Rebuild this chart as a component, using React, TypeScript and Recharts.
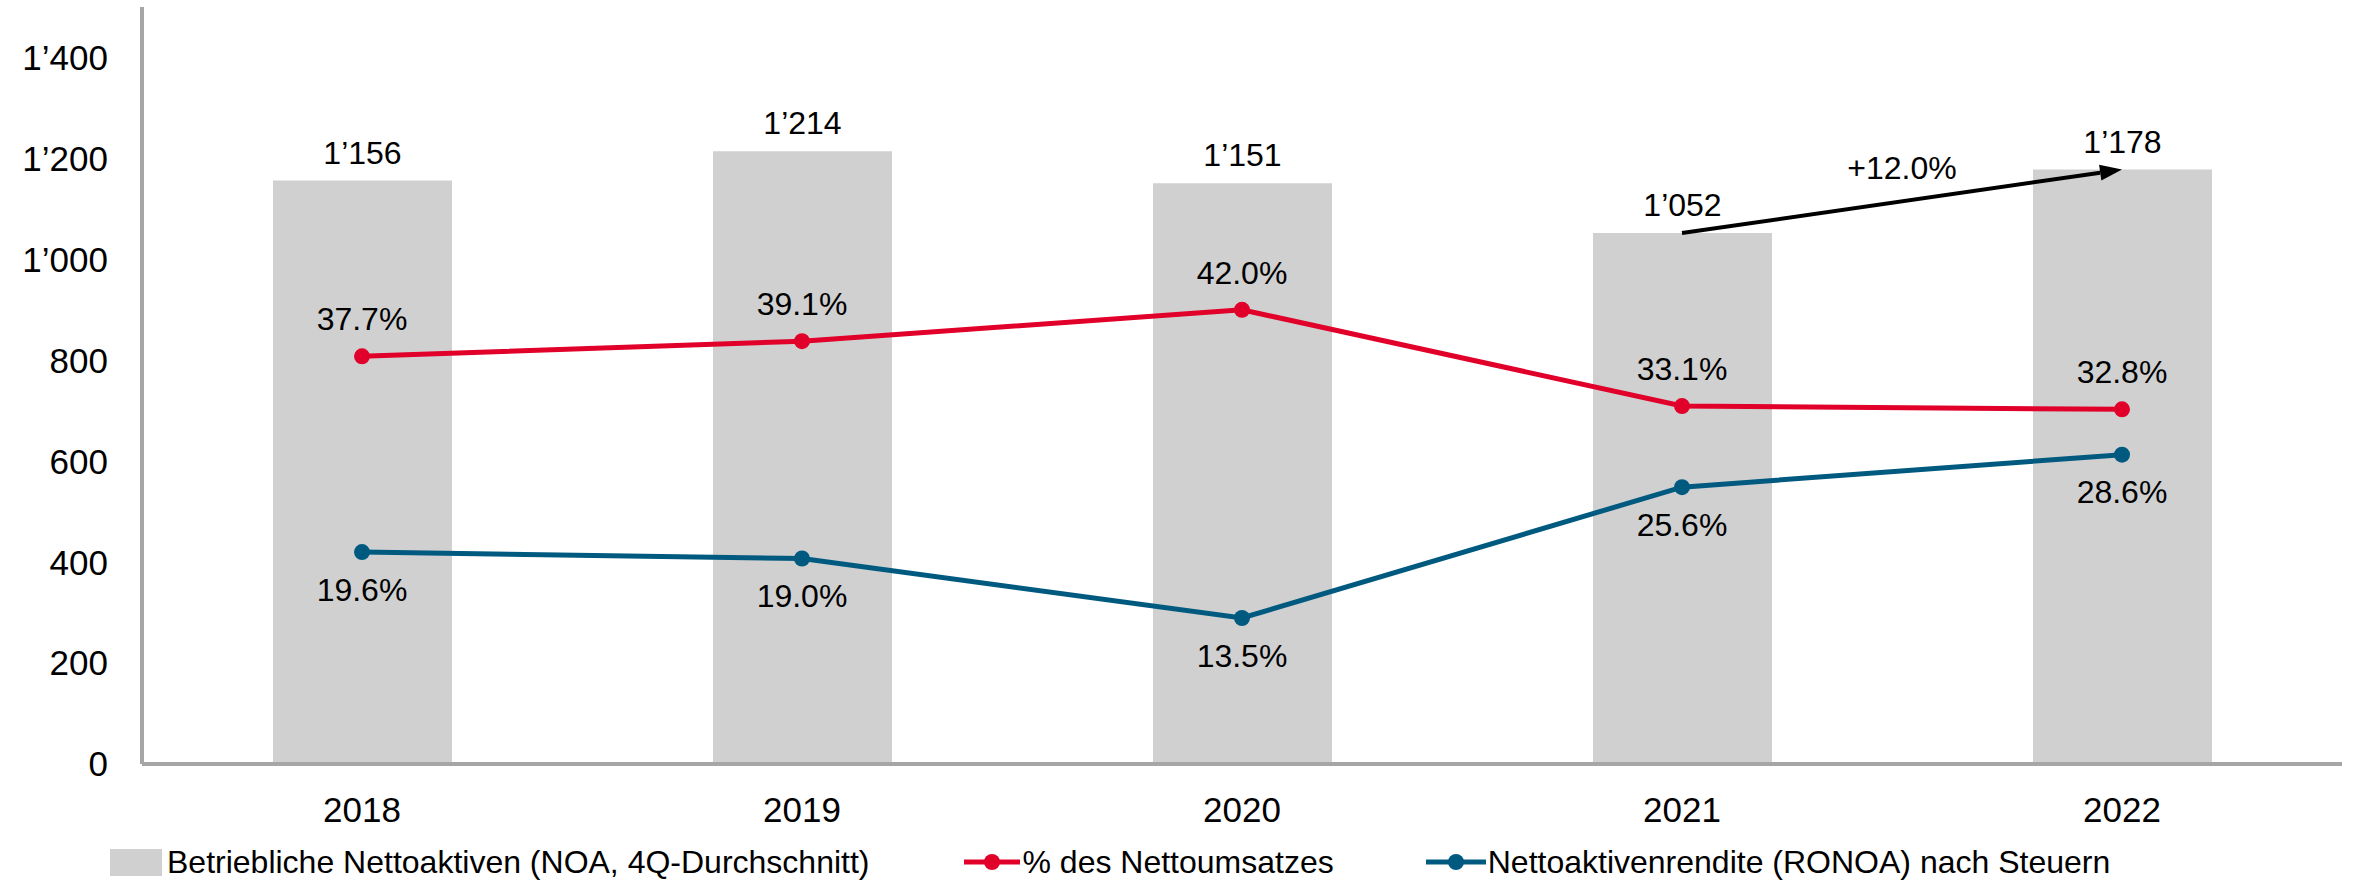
import React from "react";
import {
  ComposedChart, Bar, Line, XAxis, YAxis, LabelList, Legend, ReferenceLine,
} from "recharts";

const years = ["2018", "2019", "2020", "2021", "2022"];
const noa = [1156, 1214, 1151, 1052, 1178];
const pctSales = [37.7, 39.1, 42.0, 33.1, 32.8];
const ronoa = [19.6, 19.0, 13.5, 25.6, 28.6];
const yTicks = [0, 200, 400, 600, 800, 1000, 1200, 1400];
const growthLabel = "+12.0%";

const data = years.map((year, i) => ({
  year,
  noa: noa[i],
  pct: pctSales[i],
  ronoa: ronoa[i],
}));

const GREY = "#d0d0d0";
const RED = "#e1002a";
const BLUE = "#005a80";
const AXIS = "#a6a6a6";
const FONT = "'Liberation Sans', Arial, sans-serif";

function fmtThousands(v: number) {
  const s = String(Math.round(v));
  return s.replace(/\B(?=(\d{3})+(?!\d))/g, "\u2019");
}

function fmtPct(v: number) {
  return `${v.toFixed(1)}%`;
}

// arrow from 2021 bar top to 2022 bar top, with growth label
function GrowthArrow(props: any) {
  const { x1, y1, x2, y2 } = props;
  if (x1 == null) return null;
  const ang = Math.atan2(y2 - y1, x2 - x1);
  const len = 22;
  const w = 8;
  const bx = x2 - len * Math.cos(ang);
  const by = y2 - len * Math.sin(ang);
  const px = -Math.sin(ang) * w;
  const py = Math.cos(ang) * w;
  const mx = (x1 + x2) / 2;
  const my = (y1 + y2) / 2;
  return (
    <g>
      <line x1={x1} y1={y1} x2={bx} y2={by} stroke="#000" strokeWidth={4} />
      <polygon points={`${x2},${y2} ${bx + px},${by + py} ${bx - px},${by - py}`} fill="#000" />
      <text x={mx} y={my - 22} textAnchor="middle" fontSize={32} fontFamily={FONT} fill="#000">
        {growthLabel}
      </text>
    </g>
  );
}

function LegendContent() {
  const item = { display: "flex", alignItems: "center" } as const;
  return (
    <div
      style={{
        display: "flex",
        alignItems: "center",
        height: 36,
        paddingLeft: 110,
        fontFamily: FONT,
        fontSize: 32,
        color: "#000",
        whiteSpace: "nowrap",
      }}
    >
      <div style={{ ...item, marginRight: 95 }}>
        <span style={{ width: 52, height: 27, background: GREY, display: "inline-block", marginRight: 5 }} />
        <span>Betriebliche Nettoaktiven (NOA, 4Q-Durchschnitt)</span>
      </div>
      <div style={{ ...item, marginRight: 92 }}>
        <svg width={56} height={20} style={{ marginRight: 2 }}>
          <line x1={0} y1={10} x2={56} y2={10} stroke={RED} strokeWidth={5} />
          <circle cx={28} cy={10} r={8} fill={RED} />
        </svg>
        <span>% des Nettoumsatzes</span>
      </div>
      <div style={item}>
        <svg width={60} height={20} style={{ marginRight: 2 }}>
          <line x1={0} y1={10} x2={60} y2={10} stroke={BLUE} strokeWidth={5} />
          <circle cx={30} cy={10} r={8} fill={BLUE} />
        </svg>
        <span>Nettoaktivenrendite (RONOA) nach Steuern</span>
      </div>
    </div>
  );
}

export default function App() {
  return (
    <div style={{ position: "absolute", left: 0, top: 0, background: "#fff" }}>
      <ComposedChart
        width={2357}
        height={880}
        data={data}
        margin={{ top: 7, right: 15, left: 0, bottom: 0 }}
        barCategoryGap={0}
        style={{ fontFamily: FONT }}
      >
        <XAxis
          dataKey="year"
          height={80}
          tickLine={false}
          tickSize={0}
          tickMargin={33}
          tick={{ fill: "#000", fontSize: 35, fontFamily: FONT }}
          axisLine={{ stroke: AXIS, strokeWidth: 4 }}
        />
        <YAxis
          yAxisId="left"
          width={142}
          domain={[0, 1500]}
          ticks={yTicks}
          interval={0}
          tickLine={false}
          tickSize={0}
          tickMargin={34}
          tickFormatter={fmtThousands}
          tick={{ fill: "#000", fontSize: 35, fontFamily: FONT }}
          axisLine={{ stroke: AXIS, strokeWidth: 4 }}
        />
        <YAxis yAxisId="right" orientation="right" domain={[0, 70]} hide />
        <Legend verticalAlign="bottom" wrapperStyle={{ left: 0, bottom: 0, width: 2357 }} content={LegendContent} />
        <Bar yAxisId="left" dataKey="noa" fill={GREY} barSize={179} isAnimationActive={false}>
          <LabelList
            dataKey="noa"
            position="top"
            offset={17}
            formatter={(v: any) => fmtThousands(Number(v))}
            style={{ fill: "#000", fontSize: 32, fontFamily: FONT }}
          />
        </Bar>
        <ReferenceLine
          yAxisId="left"
          segment={[{ x: "2021", y: 1052 }, { x: "2022", y: 1178 }]}
          shape={GrowthArrow}
          ifOverflow="visible"
        />
        <Line
          yAxisId="right"
          dataKey="pct"
          stroke={RED}
          strokeWidth={5}
          dot={{ r: 8, fill: RED, stroke: RED, strokeWidth: 0 }}
          activeDot={false}
          isAnimationActive={false}
        >
          <LabelList
            dataKey="pct"
            position="top"
            offset={26}
            formatter={(v: any) => fmtPct(Number(v))}
            style={{ fill: "#000", fontSize: 32, fontFamily: FONT }}
          />
        </Line>
        <Line
          yAxisId="right"
          dataKey="ronoa"
          stroke={BLUE}
          strokeWidth={5}
          dot={{ r: 8, fill: BLUE, stroke: BLUE, strokeWidth: 0 }}
          activeDot={false}
          isAnimationActive={false}
        >
          <LabelList
            dataKey="ronoa"
            position="bottom"
            offset={26}
            formatter={(v: any) => fmtPct(Number(v))}
            style={{ fill: "#000", fontSize: 32, fontFamily: FONT }}
          />
        </Line>
      </ComposedChart>
    </div>
  );
}
